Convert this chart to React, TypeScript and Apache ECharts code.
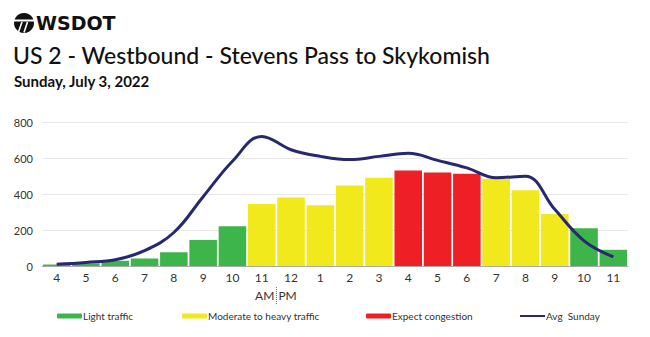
import React, { useEffect, useRef } from "react";
import * as echarts from "echarts";

const hours = ["4", "5", "6", "7", "8", "9", "10", "11", "12", "1", "2", "3", "4", "5", "6", "7", "8", "9", "10", "11"];
const volumes = [8, 15, 29, 42, 77, 145, 221, 344, 381, 337, 447, 490, 530, 519, 512, 485, 421, 289, 210, 90];
// 0 = light, 1 = moderate/heavy, 2 = congestion
const levels = [0, 0, 0, 0, 0, 0, 0, 1, 1, 1, 1, 1, 2, 2, 2, 1, 1, 1, 0, 0];
const avgSunday = [10, 20, 35, 85, 186, 385, 582, 720, 646, 609, 591, 609, 626, 587, 545, 490, 499, 315, 140, 51];
const yTicks = [0, 200, 400, 600, 800];
const seriesNames = ["Light traffic", "Moderate to heavy traffic", "Expect congestion", "Avg  Sunday"];
const colors = ["#3db54a", "#f2e91c", "#ee2026", "#27286f"];

export default function App() {
  const ref = useRef<HTMLDivElement>(null);
  useEffect(() => {
    if (!ref.current) return;
    const chart = echarts.init(ref.current, null, { renderer: "svg" });
    const font = "Lato";
    const barSeries = [0, 1, 2].map((lv) => ({
      name: seriesNames[lv],
      type: "bar",
      stack: "vol",
      barCategoryGap: "6%",
      itemStyle: { color: colors[lv] },
      data: volumes.map((v, i) => (levels[i] === lv ? v : "-")),
    }));
    const legendLeft = [57, 182, 366, 519];
    chart.setOption({
      animation: false,
      textStyle: { fontFamily: font },
      grid: { left: 42, right: 22, top: 122, bottom: 71 },
      xAxis: {
        type: "category",
        data: hours,
        boundaryGap: true,
        axisLine: { lineStyle: { color: "#aaaaaa" } },
        axisTick: { length: 4, lineStyle: { color: "#aaaaaa" } },
        axisLabel: { color: "#333", fontSize: 12, margin: 5, fontFamily: font },
      },
      yAxis: {
        type: "value",
        min: yTicks[0],
        max: yTicks[yTicks.length - 1],
        interval: 200,
        axisLine: { show: false },
        axisTick: { show: false },
        splitLine: { lineStyle: { color: "#e8e8e8" } },
        axisLabel: { color: "#333", fontSize: 11, margin: 9, fontFamily: font },
      },
      legend: seriesNames.map((n, i) => ({
        data: [n],
        left: legendLeft[i],
        top: 311,
        padding: 0,
        itemWidth: 25,
        itemHeight: i === 3 ? 2 : 5,
        itemGap: 0,
        textStyle: { fontSize: 10, color: "#333", fontFamily: font, padding: [0, 0, 0, -4] },
        selectedMode: false,
      })),
      series: [
        ...barSeries,
        {
          name: seriesNames[3],
          type: "line",
          smooth: 0.4,
          symbol: "none",
          lineStyle: { color: colors[3], width: 3 },
          itemStyle: { color: colors[3] },
          data: avgSunday,
          z: 5,
        },
      ],
    });
    const x7 = chart.convertToPixel({ xAxisIndex: 0 }, 7) as number;
    const x8 = chart.convertToPixel({ xAxisIndex: 0 }, 8) as number;
    const xb = (x7 + x8) / 2;
    chart.setOption({
      graphic: [
        { type: "circle", shape: { cx: 24, cy: 23, r: 10 }, style: { fill: "#111" } },
        { type: "rect", shape: { x: 14, y: 19.5, width: 20, height: 2 }, style: { fill: "#fff" } },
        { type: "line", shape: { x1: 22, y1: 22, x2: 18.5, y2: 32 }, style: { stroke: "#fff", lineWidth: 1.6 } },
        { type: "line", shape: { x1: 27.5, y1: 22, x2: 24, y2: 32.5 }, style: { stroke: "#fff", lineWidth: 1.6 } },
        { type: "text", left: 36, top: 13, style: { text: "WSDOT", font: "900 19px 'DejaVu Sans'", fill: "#111" } },
        { type: "text", left: 13, top: 43, style: { text: "US 2 - Westbound - Stevens Pass to Skykomish", font: "500 23px Lato", fill: "#111" } },
        { type: "text", left: 14, top: 73, style: { text: "Sunday, July 3, 2022", font: "bold 15px Lato", fill: "#111" } },
        { type: "text", x: xb - 2, y: 295, style: { text: "AM", font: "12px Lato", fill: "#333", align: "right", verticalAlign: "middle" } },
        { type: "text", x: xb + 2, y: 295, style: { text: "PM", font: "12px Lato", fill: "#333", align: "left", verticalAlign: "middle" } },
        { type: "line", shape: { x1: xb, y1: 287, x2: xb, y2: 304 }, style: { stroke: "#666", lineWidth: 1, lineDash: [1, 1] } },
      ],
    });
    return () => chart.dispose();
  }, []);
  return <div ref={ref} style={{ width: 650, height: 337, position: "absolute", left: 0, top: 0 }} />;
}
